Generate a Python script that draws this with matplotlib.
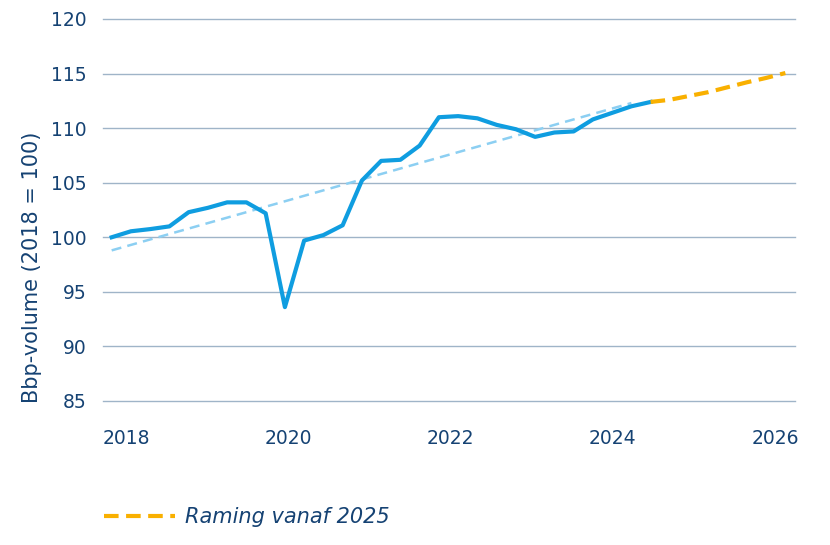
import matplotlib
matplotlib.use("Agg")
import matplotlib.pyplot as plt
import numpy as np

# Quarterly GDP volume index (2018 = 100), 2018Q1 .. 2025Q1 (realised)
actual = [100.0, 100.55, 100.75, 101.0, 102.3, 102.7, 103.2, 103.2,
          102.2, 93.6, 99.7, 100.2, 101.1, 105.2, 107.0, 107.1,
          108.4, 111.0, 111.1, 110.9, 110.3, 109.9, 109.2, 109.6,
          109.7, 110.8, 111.4, 112.0, 112.4]
# Forecast 2025Q1 .. 2026Q4
forecast = [112.4, 112.6, 112.95, 113.3, 113.75, 114.2, 114.6, 115.05]
# Trend line endpoints (2018Q1 and 2024Q4)
trend_idx = [0, 27]
trend_vals = [98.8, 112.3]

year_labels = ["2018", "2020", "2022", "2024", "2026"]
year_pos = [0.79, 9.16, 17.6, 26.0, 34.5]
yticks = [85, 90, 95, 100, 105, 110, 115, 120]
ylabel = "Bbp-volume (2018 = 100)"
legend_label = "Raming vanaf 2025"

text_col = "#154273"
blue = "#0f9de0"
orange = "#f9b000"
trend_col = "#8ccff2"
grid_col = "#9fb4c8"

fig = plt.figure(figsize=(8.3, 5.45), dpi=100)
ax = fig.add_axes([103/830, 1-401/545, (795-103)/830, (401-19)/545])

x_act = np.arange(len(actual))
x_fc = np.arange(len(actual)-1, len(actual)-1+len(forecast))

for y in yticks:
    ax.axhline(y, color=grid_col, lw=1.0, zorder=1, clip_on=False)

ax.plot(trend_idx, trend_vals, color=trend_col, lw=1.8, dashes=(4, 2.5), zorder=2)
ax.plot(x_act, actual, color=blue, lw=3.0, solid_joinstyle="round", zorder=3)
fc_line, = ax.plot(x_fc, forecast, color=orange, lw=3.0, dashes=(3.5, 1.8), zorder=3)

ax.set_xlim(-0.45, 35.5)
ax.set_ylim(85, 120)
ax.set_yticks(yticks)
ax.set_yticklabels([str(v) for v in yticks])
ax.set_xticks(year_pos)
ax.set_xticklabels(year_labels)
ax.tick_params(axis="both", length=0, colors=text_col, labelsize=13.5)
ax.tick_params(axis="y", pad=12)
ax.tick_params(axis="x", pad=20)
for s in ax.spines.values():
    s.set_visible(False)

fig.text(32/830, 1-267/545, ylabel, rotation=90, ha="center", va="center",
         color=text_col, fontsize=15)

leg = fig.legend([fc_line], [legend_label], loc="center left",
                 bbox_to_anchor=(104/830, 1-517/545), frameon=False,
                 borderpad=0, borderaxespad=0, handlelength=3.4,
                 handletextpad=0.5, prop={"size": 15, "style": "italic"})
for t in leg.get_texts():
    t.set_color(text_col)

fig.savefig("out.png", dpi=100)
